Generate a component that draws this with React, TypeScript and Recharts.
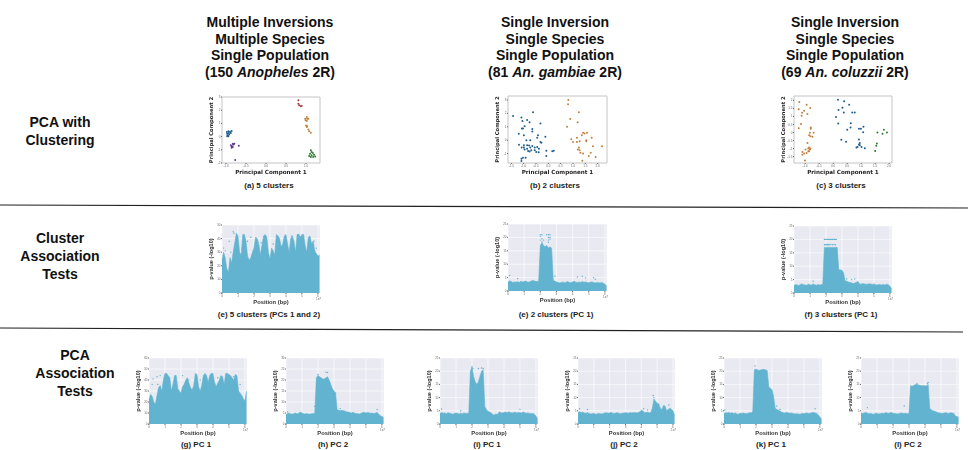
import {
  Area,
  CartesianGrid,
  ComposedChart,
  ReferenceArea,
  Scatter,
  ScatterChart,
  XAxis,
  YAxis,
} from 'recharts';

const BLUE = '#1f5f8b';
const PURPLE = '#5b3f8c';
const RED = '#a63d40';
const ORANGE = '#c08040';
const GREEN = '#2e7d32';
const MANHATTAN = '#62b3cf';

type Pair = number[];

// PCA panel (a)
const aBlue: Pair[] = [[-0.98,0.35],[-0.94,0.40],[-0.90,0.37],[-0.86,0.42],[-0.97,0.22],[-0.93,0.27],[-0.88,0.27],[-0.96,0.10],[-0.92,0.15],[-0.94,0.02],[-0.97,0.02]];
const aPurple: Pair[] = [[-0.88,-0.66],[-0.83,-0.54],[-0.79,-0.54],[-0.86,-0.74],[-0.82,-0.61],[-0.86,-0.84],[-0.83,-0.79],[-0.68,-0.69],[-0.77,-1.77]];
const aRed: Pair[] = [[0.81,2.75],[0.81,2.49],[0.83,2.37],[0.89,2.32],[0.87,2.29]];
const aOrange: Pair[] = [[0.98,1.36],[1.02,1.48],[1.06,1.36],[1.02,1.18],[1.00,0.85],[1.03,0.78],[1.02,0.73],[1.06,0.53],[1.08,0.40],[1.12,0.30],[1.03,1.36],[0.99,1.23]];
const aGreen: Pair[] = [[1.12,-1.04],[1.14,-1.17],[1.10,-1.29],[1.17,-1.24],[1.14,-1.42],[1.20,-1.37],[1.12,-1.55],[1.18,-1.55],[1.23,-1.50],[1.08,-1.47]];

// PCA panel (b)
const bBlue: Pair[] = [[-1.43,1.80],[-1.09,1.70],[-1.05,1.43],[-0.86,1.50],[-0.76,1.35],[-0.62,2.08],[-0.32,1.25],[-0.96,1.05],[-1.07,0.88],[-1.03,0.88],[-0.65,0.83],[-0.65,0.65],[-1.20,0.48],[-0.99,0.38],[-0.42,0.38],[-0.45,0.18],[-0.89,0.00],[-0.73,0.00],[-0.12,0.25],[-0.32,-0.13],[-0.28,-0.18],[-1.19,-0.33],[-1.08,-0.55],[-0.99,-0.38],[-0.99,-0.55],[-0.86,-0.38],[-0.78,-0.40],[-0.65,-0.43],[-0.55,-0.55],[-0.45,-0.50],[-0.38,-0.63],[-0.96,-0.70],[-0.82,-0.80],[-0.76,-0.85],[-0.69,-0.75],[-0.55,-0.75],[-0.49,-0.88],[-0.39,-0.90],[-0.08,-0.78],[0.16,-0.83],[0.22,-0.78],[-0.08,-1.18],[-1.09,-1.38],[-1.03,-1.30],[-0.92,-1.30],[-1.09,-1.55],[-0.86,-0.63],[-0.73,-0.55]];
const bOrange: Pair[] = [[0.81,3.00],[0.80,2.68],[0.89,1.58],[1.24,2.08],[1.19,1.35],[0.76,1.00],[0.93,0.08],[1.00,-0.13],[1.16,0.18],[1.16,-0.13],[1.27,-0.08],[1.36,0.38],[1.41,0.55],[1.47,0.50],[1.57,0.55],[1.76,0.18],[1.54,0.00],[1.81,-0.45],[2.18,-0.45],[1.24,-0.55],[1.27,-0.75],[1.30,-0.93],[1.41,-1.00],[1.72,-0.93],[1.64,-1.18],[1.92,-1.25],[1.38,-1.53],[1.54,-0.08],[1.20,-0.70]];

// PCA panel (c)
const cOrange: Pair[] = [[-1.21,1.90],[-0.95,1.73],[-0.82,1.52],[-1.23,1.44],[-1.04,1.35],[-1.11,1.23],[-1.13,1.04],[-0.92,1.15],[-1.15,0.52],[-1.23,0.27],[-0.80,0.31],[-0.80,0.23],[-0.83,-0.02],[-0.70,-0.02],[-0.86,-0.17],[-0.74,-0.27],[-0.81,-0.23],[-0.92,-0.65],[-0.86,-0.94],[-0.83,-1.06],[-0.89,-1.00],[-0.99,-1.06],[-1.10,-1.21],[-1.04,-1.31],[-1.10,-1.38],[-0.95,-1.27],[-0.89,-1.17],[-1.01,-1.75],[-0.81,-1.00],[-0.86,-1.17]];
const cBlue: Pair[] = [[0.17,2.04],[0.39,1.94],[0.57,1.73],[0.33,1.54],[0.19,1.40],[0.38,1.25],[0.68,1.25],[0.77,1.25],[0.10,0.96],[0.18,0.56],[0.63,0.58],[0.62,0.31],[0.50,0.17],[0.92,0.23],[0.99,0.23],[1.08,0.35],[1.07,0.02],[0.29,-0.46],[0.46,-0.58],[0.92,-0.44],[0.95,-0.65],[0.92,-0.75],[0.87,-0.90],[0.83,-0.94],[1.01,-0.90],[1.13,-0.98],[0.95,-0.79]];
const cGreen: Pair[] = [[1.58,0.00],[1.81,0.17],[1.76,-0.08],[1.92,0.00],[1.56,-0.69],[1.54,-0.83],[1.50,-1.15]];

// genome position in units of 1e7 bp, shared by the association panels
const positions = [0,0.1,0.2,0.3,0.4,0.5,0.6,0.7,0.8,0.9,1,1.1,1.2,1.3,1.4,1.5,1.6,1.7,1.8,1.9,2,2.1,2.2,2.3,2.4,2.5,2.6,2.7,2.8,2.9,3,3.1,3.2,3.3,3.4,3.5,3.6,3.7,3.8,3.9,4,4.1,4.2,4.3,4.4,4.5,4.6,4.7,4.8,4.9,5,5.1,5.2,5.3,5.4,5.5,5.6,5.7,5.8,5.9,6,6.1];

// upper envelope of the -log10 p-values in each panel
const e5Tops = [24,30,26,18,15,26,22,30,37,44,42,30,28,43,43,38,27,24,26,30,33,41,40,36,28,35,42,43,41,30,25,33,31,28,43,42,40,34,36,42,43,36,30,40,42,38,30,43,43,41,43,43,35,30,41,42,36,38,31,29,27,28];
const e2Tops = [3.3,3.8,3.5,3.2,3.4,3.3,3.5,3.2,3.6,3.4,3.5,3.7,3.4,3.3,3.6,3.9,3.8,3.6,3.5,3.6,17,18,17,16.5,17,16,16.5,16,4.1,3.6,3.4,3.2,3.0,3.2,3.4,3.1,3.3,3.5,3.2,3.1,3.4,3.6,3.3,3.2,3.4,3.2,3.5,3.3,3.4,3.2,3.1,3.3,3.4,3.2,3.0,3.2,3.1,3.0,3.2,2.9,2.6,1.6];
const fTops = [2.9,3.1,3.0,2.8,3.2,3.4,3.1,3.0,2.9,3.3,3.1,3.0,3.4,3.1,2.9,3.2,3.0,3.1,3.3,17,17,17,17,17,17,17,17,17,8.7,8.6,8.5,7.5,4.5,4.4,4.1,3.9,3.8,3.5,3.7,4.0,4.3,3.4,3.3,3.5,3.4,3.3,3.2,3.5,3.3,3.2,3.4,3.1,3.0,3.2,3.1,3.0,3.2,3.0,3.3,3.1,2.5,1.6];
const gTops = [22,27,25,20,18,26,33,35,30,40,46,46,44,42,30,36,44,44,32,30,28,34,36,40,42,37,33,31,35,46,45,34,30,35,44,46,44,38,44,46,46,38,34,37,40,44,43,36,46,46,45,44,42,40,45,44,30,28,26,23,21,30];
const hTops = [4.2,4.8,5,4.6,4.5,4.8,5.0,4.6,5.0,5.3,5.0,4.7,4.6,4.8,4.5,4.6,4.7,4.8,4.9,21,22,21.5,21,20.5,20.5,21,21.5,20,18,16,15,14,6.5,6.3,6.0,6.2,6.0,5.8,5.5,5.4,5.2,5.0,5.3,4.9,4.8,4.7,4.6,4.9,5.2,5.3,5.0,5.2,5.1,4.9,5.0,4.8,5.0,5.3,4.4,3.8,3.4,3.0];
const iTops = [4.0,4.4,4.1,4.2,3.9,4.3,4.1,3.9,3.7,4.0,4.2,4.0,3.8,4.1,3.9,4.2,4.0,4.1,4.0,20,21.5,18,16,15,16,18,20,20.5,6.5,5.5,4.8,4.5,4.2,3.6,3.4,3.8,3.6,4.6,4.3,4.2,4.4,4.5,4.3,4.6,4.4,4.2,4.3,4.5,4.2,4.4,4.3,4.2,4.5,4.3,4.1,4.2,4.0,3.9,4.0,3.7,3.0,2.0];
const jTops = [4.4,4.6,4.3,4.5,4.2,4.1,4.3,4.0,3.8,3.9,4.1,3.7,3.8,4.0,3.9,3.8,4.0,4.2,4.3,4.1,4.2,4.4,4.1,4.0,4.2,4.3,4.0,3.9,4.1,4.2,4.3,4.2,4.1,4.4,4.2,4.3,4.4,4.2,4.3,4.6,5.2,5.0,4.4,4.3,4.5,4.2,4.4,6.0,9.5,8.5,8.0,7.5,6.0,5.5,7.0,6.8,5.0,5.5,6.0,5.6,5.0,3.2];
const kTops = [4.0,4.3,4.2,4.4,4.1,4.3,4.0,4.2,3.8,3.7,4.1,4.0,4.2,4.0,3.9,4.1,4.3,4.2,4.8,20.5,20.8,20.5,20.3,20.5,20.6,20.7,20.5,20.3,14,13.5,13,10.5,6.0,5.5,5.2,4.9,4.5,4.3,4.2,4.4,4.3,4.1,4.2,4.0,3.9,3.8,3.9,3.7,3.8,4.0,3.9,4.1,4.2,4.0,4.1,4.3,4.4,4.2,4.0,3.4,2.6,1.8];
const lTops = [4.3,4.0,4.2,4.4,4.1,3.9,4.0,3.8,3.7,4.0,4.1,3.8,3.9,4.1,4.0,4.2,4.3,4.0,4.2,4.4,4.1,4.0,3.9,3.8,4.0,4.2,4.1,4.0,4.1,3.9,4.0,14.5,14.3,14.6,15,15,14.8,14.6,14.5,14.6,14.4,14.5,15,6.0,5.3,5.0,4.8,4.6,4.3,4.2,4.1,4.0,4.2,4.3,4.1,4.0,4.3,4.2,4.0,3.0,2.8,2.6];

// stray SNPs sitting above the envelope
const e5Dots: Pair[] = [[0.7,45],[0.75,44],[0.1,33],[0.2,31],[0.55,30],[0.45,38],[1.25,33],[1.6,38],[1.8,41],[2.45,37],[3.2,36],[3.45,39],[4.35,42],[4.8,43],[5.1,41],[5.75,38],[5.9,33]];
const e2Dots: Pair[] = [[2.0,21],[2.1,21],[2.4,21],[2.5,21],[2.6,21],[2.0,20.3],[2.1,19.5],[2.5,20],[2.6,20],[2.0,19],[2.2,19],[2.5,19],[2.6,19.4],[2.1,18.3],[2.5,18.2],[0.1,5.8],[0.6,4.6],[2.9,5.5],[4.3,5.2],[4.6,5.5],[4.8,4.9],[5.3,5],[5.4,4.4]];
const fDots: Pair[] = [[1.9,20],[1.95,20],[2,20],[2.05,20],[2.1,20],[2.15,20],[2.2,20],[2.25,20],[2.3,20],[2.35,20],[2.4,20],[2.45,20],[2.5,20],[2.55,20],[2.6,20],[2.65,20],[1.9,18],[1.95,18.1],[2,18],[2.05,18],[2.1,18.1],[2.15,18],[2.2,18],[2.3,18.1],[2.4,18],[2.5,18.1],[2.6,18],[2.1,15.4],[2.3,15.3],[1.2,4.4],[3.3,5.2],[3.6,5],[3.8,5.2]];
const gDots: Pair[] = [[0.2,36],[0.25,41],[0.5,43],[0.55,36],[0.7,44],[1.25,36],[1.6,40],[2.1,44],[2.5,40],[3.2,40],[4.3,42],[5.3,43],[5.7,36]];
const hDots: Pair[] = [[1.8,8],[2.5,23.5],[2.6,23.4],[2,22.5],[3.1,14],[3.4,7],[0.1,5.5],[5.7,6.6]];
const iDots: Pair[] = [[2,21.7],[2.05,21],[2.4,21],[2.6,21.2],[2.7,21],[0.1,5.7],[1.3,5],[5,5.6]];
const jDots: Pair[] = [[4.75,10.8],[4.8,10],[0.1,5.8],[0.6,5.5],[4.15,5.8],[4.4,5.3],[5.1,7.5],[5.75,7.2]];
const kDots: Pair[] = [[1.95,22],[3.3,6.8],[3.5,5.5],[5.7,5.8],[0.05,5.3]];
const lDots: Pair[] = [[0.4,6.2],[2.7,6.8],[4.2,15.7],[4.15,15.4],[3.5,15.4]];

const positionTicks = [0, 1, 2, 3, 4, 5, 6];
const ticks0to25 = [0, 5, 10, 15, 20, 25];
const ticks0to30 = [0, 5, 10, 15, 20, 25, 30];
const ticks0to50 = [0, 10, 20, 30, 40, 50];
const ticks0to60 = [0, 10, 20, 30, 40, 50, 60];

const SANS = '"Liberation Sans", Arial, sans-serif';
const Y_AXIS_W = 14;
const X_AXIS_H = 14;
const PAD_TOP = 4;
const PAD_RIGHT = 6;

const tickStyle = { fontSize: 3, fill: '#666', fontFamily: SANS };

const toPoints = (pairs: Pair[]) => pairs.map(([x, y]) => ({ x, y }));

function PcaPanel({ left, top, width, height, xDomain, yDomain, xTicks, yTicks, groups }: any) {
  return (
    <div style={{ position: 'absolute', left: left - Y_AXIS_W, top: top - PAD_TOP, filter: 'blur(0.4px)' }}>
      <ScatterChart
        width={width + Y_AXIS_W + PAD_RIGHT}
        height={height + PAD_TOP + X_AXIS_H}
        margin={{ top: PAD_TOP, right: PAD_RIGHT, bottom: 0, left: 0 }}
      >
        <XAxis
          type="number"
          dataKey="x"
          domain={xDomain}
          ticks={xTicks}
          allowDataOverflow
          interval={0}
          height={X_AXIS_H}
          tick={tickStyle}
          tickSize={1}
          tickMargin={0.5}
          axisLine={false}
          tickFormatter={(v: number) => v.toFixed(1)}
          label={{ value: 'Principal Component 1', position: 'insideBottom', offset: 3, style: { fontSize: 5.6, fontWeight: 700, fill: '#222', fontFamily: '"DejaVu Sans"' } }}
        />
        <YAxis
          type="number"
          dataKey="y"
          domain={yDomain}
          ticks={yTicks}
          allowDataOverflow
          interval={0}
          width={Y_AXIS_W}
          tick={tickStyle}
          tickSize={1}
          tickMargin={0.5}
          axisLine={false}
          label={{ value: 'Principal Component 2', angle: -90, position: 'insideLeft', offset: 3, style: { fontSize: 5.2, fontWeight: 700, fill: '#222', textAnchor: 'middle', fontFamily: '"DejaVu Sans"' } }}
        />
        <ReferenceArea x1={xDomain[0]} x2={xDomain[1]} y1={yDomain[0]} y2={yDomain[1]} fill="#fff" stroke="#c4c4c4" strokeWidth={1} />
        {groups.map((g: any, i: number) => (
          <Scatter
            key={i}
            data={toPoints(g.points)}
            isAnimationActive={false}
            shape={(p: any) => <circle cx={p.cx} cy={p.cy} r={1} fill={g.color} />}
          />
        ))}
      </ScatterChart>
    </div>
  );
}

function AssocPanel({ left, top, width, height, tops, dots, yMax, yTicks }: any) {
  const table = positions.map((pos, i) => ({ pos, top: tops[i] }));
  const dotRows = dots.map(([pos, val]: Pair) => ({ pos, val }));
  return (
    <div style={{ position: 'absolute', left: left - Y_AXIS_W, top: top - PAD_TOP, filter: 'blur(0.4px)' }}>
      <ComposedChart
        width={width + Y_AXIS_W + PAD_RIGHT}
        height={height + PAD_TOP + X_AXIS_H}
        margin={{ top: PAD_TOP, right: PAD_RIGHT, bottom: 0, left: 0 }}
        data={table}
      >
        <CartesianGrid stroke="#fff" strokeWidth={0.6} fill="#e9e9f2" />
        <XAxis
          type="number"
          dataKey="pos"
          domain={[0, 6.13]}
          ticks={positionTicks}
          interval={0}
          height={X_AXIS_H}
          tick={tickStyle}
          tickSize={1}
          tickMargin={0.5}
          axisLine={false}
          label={{ value: 'Position (bp)', position: 'insideBottom', offset: 3, style: { fontSize: 5.8, fontWeight: 700, fill: '#333', fontFamily: SANS } }}
        />
        <YAxis
          type="number"
          domain={[0, yMax]}
          ticks={yTicks}
          interval={0}
          width={Y_AXIS_W}
          tick={tickStyle}
          tickSize={1}
          tickMargin={0.5}
          axisLine={false}
          label={{ value: 'p-value (-log10)', angle: -90, position: 'insideLeft', offset: 3, style: { fontSize: 5.6, fontWeight: 700, fill: '#333', textAnchor: 'middle', fontFamily: SANS } }}
        />
        <Area
          type="linear"
          dataKey="top"
          stroke={MANHATTAN}
          strokeWidth={0.6}
          fill={MANHATTAN}
          fillOpacity={1}
          dot={false}
          activeDot={false}
          isAnimationActive={false}
        />
        <Scatter
          data={dotRows}
          dataKey="val"
          isAnimationActive={false}
          shape={(p: any) => <circle cx={p.cx} cy={p.cy} r={0.7} fill={MANHATTAN} />}
        />
      </ComposedChart>
      <div style={{ position: 'absolute', left: width + Y_AXIS_W - 4, top: height + PAD_TOP + 4, font: `3px ${SANS}`, color: '#666' }}>1e7</div>
    </div>
  );
}

function Txt({ x, y, w = 300, size, weight = 700, color = '#111', lh, children }: any) {
  return (
    <div
      style={{
        position: 'absolute',
        left: x - w / 2,
        top: y,
        width: w,
        textAlign: 'center',
        fontFamily: SANS,
        fontSize: size,
        fontWeight: weight,
        color,
        lineHeight: lh ? `${lh}px` : 1,
      }}
    >
      {children}
    </div>
  );
}

export default function App() {
  return (
    <div style={{ position: 'fixed', left: 0, top: 0, width: 968, height: 450, background: '#fff', overflow: 'hidden' }}>
      <Txt x={270} y={14} size={14} lh={16.5}>Multiple Inversions<br />Multiple Species<br />Single Population<br />(150 <i>Anopheles</i> 2R)</Txt>
      <Txt x={555} y={14} size={14} lh={16.5}>Single Inversion<br />Single Species<br />Single Population<br />(81 <i>An. gambiae</i> 2R)</Txt>
      <Txt x={845} y={14} size={14} lh={16.5}>Single Inversion<br />Single Species<br />Single Population<br />(69 <i>An. coluzzii</i> 2R)</Txt>

      <Txt x={60} y={113} size={14} lh={18}>PCA with<br />Clustering</Txt>
      <Txt x={60} y={229} size={14} lh={18}>Cluster<br />Association<br />Tests</Txt>
      <Txt x={75} y={346} size={14} lh={18}>PCA<br />Association<br />Tests</Txt>

      <svg width={968} height={450} style={{ position: 'absolute', left: 0, top: 0 }}>
        <line x1={0} y1={205} x2={968} y2={208} stroke="#222" strokeWidth={1.2} />
        <line x1={0} y1={328} x2={963} y2={332} stroke="#222" strokeWidth={1.2} />
      </svg>

      <PcaPanel
        left={222} top={97} width={98} height={66}
        xDomain={[-1.1, 1.35]} yDomain={[-2, 3]}
        xTicks={[-1, -0.5, 0, 0.5, 1]} yTicks={[-2, -1, 0, 1, 2, 3]}
        groups={[
          { points: aBlue, color: BLUE },
          { points: aPurple, color: PURPLE },
          { points: aRed, color: RED },
          { points: aOrange, color: ORANGE },
          { points: aGreen, color: GREEN },
        ]}
      />
      <PcaPanel
        left={508} top={96} width={99} height={67}
        xDomain={[-1.635, 2.38]} yDomain={[-1.7, 3.3]}
        xTicks={[-1.5, -1, -0.5, 0, 0.5, 1, 1.5, 2]} yTicks={[-1, 0, 1, 2, 3]}
        groups={[
          { points: bBlue, color: BLUE },
          { points: bOrange, color: ORANGE },
        ]}
      />
      <PcaPanel
        left={794} top={96} width={98} height={67}
        xDomain={[-1.4, 2.1]} yDomain={[-1.9, 2.27]}
        xTicks={[-1, -0.5, 0, 0.5, 1, 1.5, 2]} yTicks={[-1.5, -1, -0.5, 0, 0.5, 1, 1.5, 2]}
        groups={[
          { points: cOrange, color: ORANGE },
          { points: cBlue, color: BLUE },
          { points: cGreen, color: GREEN },
        ]}
      />

      <AssocPanel left={222} top={225} width={98} height={68} tops={e5Tops} dots={e5Dots} yMax={50} yTicks={ticks0to50} />
      <AssocPanel left={508} top={224} width={99} height={67} tops={e2Tops} dots={e2Dots} yMax={25} yTicks={ticks0to25} />
      <AssocPanel left={794} top={226} width={98} height={67} tops={fTops} dots={fDots} yMax={25} yTicks={ticks0to25} />

      <AssocPanel left={149} top={358} width={98} height={66} tops={gTops} dots={gDots} yMax={60} yTicks={ticks0to60} />
      <AssocPanel left={286} top={358} width={98} height={66} tops={hTops} dots={hDots} yMax={30} yTicks={ticks0to30} />
      <AssocPanel left={440} top={358} width={98} height={66} tops={iTops} dots={iDots} yMax={25} yTicks={ticks0to25} />
      <AssocPanel left={578} top={358} width={97} height={66} tops={jTops} dots={jDots} yMax={25} yTicks={ticks0to25} />
      <AssocPanel left={724} top={358} width={98} height={66} tops={kTops} dots={kDots} yMax={25} yTicks={ticks0to25} />
      <AssocPanel left={861} top={358} width={98} height={66} tops={lTops} dots={lDots} yMax={25} yTicks={ticks0to25} />

      <Txt x={269} y={182} size={8} color="#222">(a) 5 clusters</Txt>
      <Txt x={555} y={182} size={8} color="#222">(b) 2 clusters</Txt>
      <Txt x={841} y={182} size={8} color="#222">(c) 3 clusters</Txt>
      <Txt x={269} y={311} size={8} color="#222">(e) 5 clusters (PCs 1 and 2)</Txt>
      <Txt x={556} y={311} size={8} color="#222">(e) 2 clusters (PC 1)</Txt>
      <Txt x={841} y={311} size={8} color="#222">(f) 3 clusters (PC 1)</Txt>
      <Txt x={196} y={441} size={8} color="#222">(g) PC 1</Txt>
      <Txt x={333} y={441} size={8} color="#222">(h) PC 2</Txt>
      <Txt x={487} y={441} size={8} color="#222">(i) PC 1</Txt>
      <Txt x={624} y={441} size={8} color="#222">(j) PC 2</Txt>
      <Txt x={771} y={441} size={8} color="#222">(k) PC 1</Txt>
      <Txt x={908} y={441} size={8} color="#222">(l) PC 2</Txt>
    </div>
  );
}
